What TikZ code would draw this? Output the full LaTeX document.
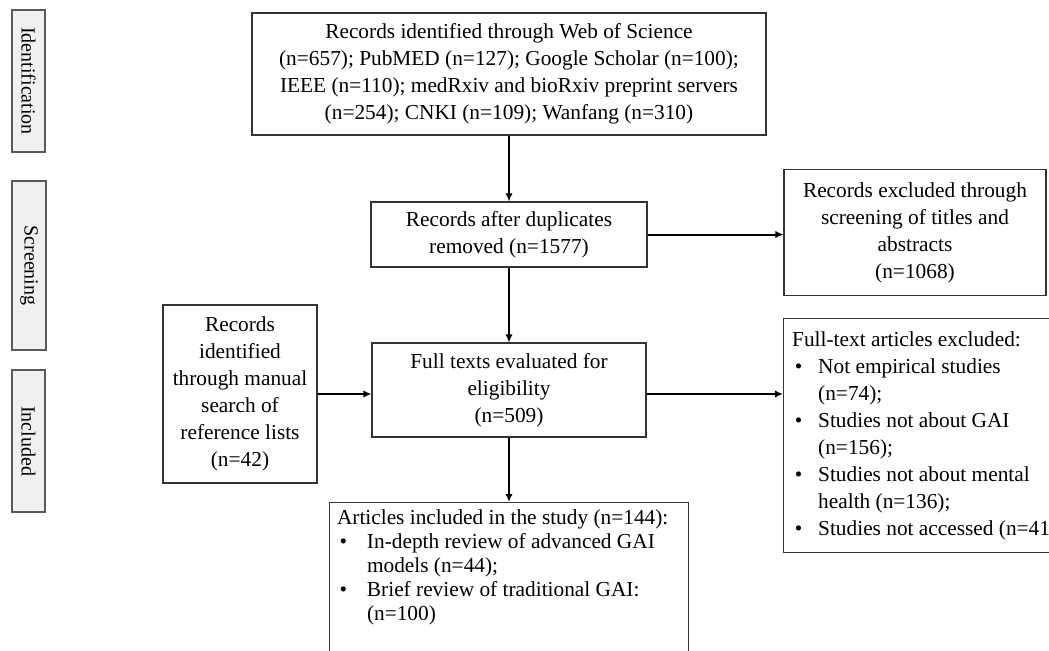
\documentclass[tikz,border=0pt]{standalone}
\usepackage{fontspec}
\setmainfont{Liberation Serif}
\usetikzlibrary{arrows.meta}
\newcommand{\bitem}[1]{\makebox[#1][l]{\hspace{2pt}\textbullet}}
\newcommand{\listgap}[1]{\hspace*{#1}}

\begin{document}
\begin{tikzpicture}[x=0.75pt,y=-0.75pt,
    box/.style={draw=black!80,line width=0.8pt,align=center,inner sep=0pt,font=\fontsize{16}{20.25}\selectfont},
    listbox/.style={draw=black!80,line width=0.8pt,align=flush left,inner xsep=6.5pt,inner ysep=5pt,font=\fontsize{16}{20.25}\selectfont},
    stage/.style={draw=black!65,fill=black!6,line width=0.8pt,rotate=-90,inner sep=0pt,font=\fontsize{15}{18}\selectfont},
    arr/.style={-{Latex[length=6pt,width=5.5pt]},line width=1.5pt}]
    \useasboundingbox (0,0) rectangle (1049,650);
    \clip (0,0) rectangle (1049,650);
    \node[stage,minimum width=106.5pt,minimum height=24.75pt] (lid) at (28.5,81) {Identification};
    \node[stage,minimum width=126.75pt,minimum height=25.5pt] (lsc) at (29,265.5) {Screening};
    \node[stage,minimum width=106.5pt,minimum height=24.75pt] (lin) at (28.5,441) {Included};
    \node[box,minimum width=385.5pt,minimum height=91.5pt] (src) at (509,74) {Records identified through Web of Science\\(n=657); PubMED (n=127); Google Scholar (n=100);\\IEEE (n=110); medRxiv and bioRxiv preprint servers\\(n=254); CNKI (n=109); Wanfang (n=310)};
    \node[box,minimum width=207pt,minimum height=48.75pt] (dup) at (509,234.5) {Records after duplicates\\removed (n=1577)};
    \node[box,minimum width=196.5pt,minimum height=94pt] (ex1) at (915,232.5) {Records excluded through\\screening of titles and\\abstracts\\(n=1068)};
    \node[box,minimum width=115.5pt,minimum height=133.5pt] (man) at (240,394) {Records\\identified\\through manual\\search of\\reference lists\\(n=42)};
    \node[box,minimum width=205.5pt,minimum height=70.5pt] (ft) at (509,390) {Full texts evaluated for\\eligibility\\(n=509)};
    \node[listbox,anchor=north west,text width=206pt,minimum height=175.5pt] (ex2) at (783,318) {Full-text articles excluded:\\
        \bitem{19.5pt}Not empirical studies\\
        \listgap{19.5pt}(n=74);\\
        \bitem{19.5pt}Studies not about GAI\\
        \listgap{19.5pt}(n=156);\\
        \bitem{19.5pt}Studies not about mental\\
        \listgap{19.5pt}health (n=136);\\
        \bitem{19.5pt}Studies not accessed (n=41)};
    \node[listbox,anchor=north,inner xsep=5.5pt,text width=258pt,font=\fontsize{16}{18}\selectfont] (inc) at (509,502) {Articles included in the study (n=144):\\
        \bitem{22.5pt}In-depth review of advanced GAI\\
        \listgap{22.5pt}models (n=44);\\
        \bitem{22.5pt}Brief review of traditional GAI:\\
        \listgap{22.5pt}(n=100)\rule[-60pt]{0pt}{60pt}};
    \draw[arr] (src) -- (dup);
    \draw[arr] (dup.east) -- (dup.east -| ex1.west);
    \draw[arr] (dup) -- (ft);
    \draw[arr] (man.east) -- (man.east -| ft.west);
    \draw[arr] (ft.east |- man.east) -- (ex2.west |- man.east);
    \draw[arr] (ft.south) -- (ft.south |- inc.north);
\end{tikzpicture}
\end{document}
